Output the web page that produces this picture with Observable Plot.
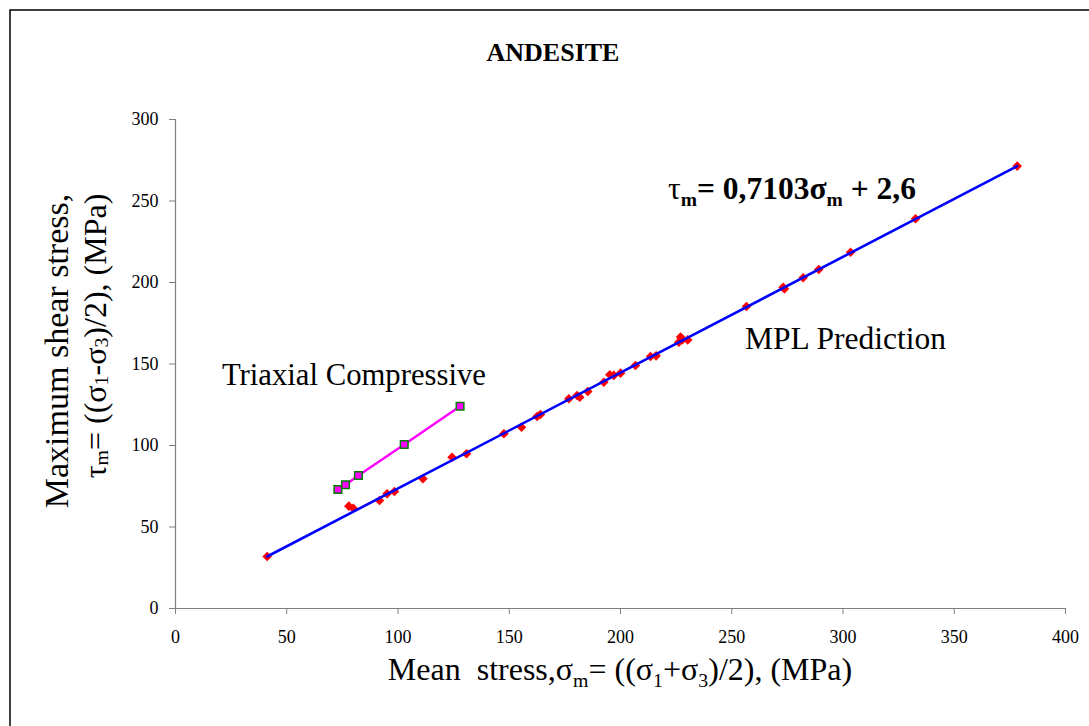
<!DOCTYPE html>
<html>
<head>
<meta charset="utf-8">
<script src="https://cdn.jsdelivr.net/npm/d3@7"></script>
<script src="https://cdn.jsdelivr.net/npm/@observablehq/plot@0.6"></script>
<style>
  html, body { margin: 0; padding: 0; background: #ffffff; }
  svg { display: block; }
</style>
</head>
<body>
<div id="chart"></div>
<script>
// ---- data ----
// MPL prediction points (mean stress, max shear stress), MPa
const mplX = [41.2, 77.9, 79.9, 91.7, 95.1, 98.4, 111.2, 124.3, 130.8, 147.6, 155.5, 162.5, 164.0,
              176.8, 180.5, 181.7, 185.3, 192.5, 195.2, 197.0, 200.0, 206.7, 213.5, 216.0,
              226.2, 227.0, 227.7, 230.2, 256.6, 273.1, 273.7, 282.1, 289.1, 303.4, 332.6, 378.3];
const mplY = [31.9, 62.8, 61.5, 66.3, 70.4, 71.8, 79.6, 92.8, 94.9, 107.2, 111.2, 117.8, 119.0,
              128.7, 130.7, 129.6, 133.1, 138.8, 143.4, 143.0, 144.4, 149.1, 154.6, 155.0,
              163.4, 166.5, 164.8, 164.8, 185.3, 197.1, 196.1, 202.9, 208.0, 218.6, 239.1, 271.4];
// Trend line ends as drawn (tau = 0.7103 sigma + 2.6)
const fitX = [41.2, 378.3];
const fitY = [31.9, 271.4];
// Triaxial compressive test points
const triX = [73.0, 76.4, 82.2, 102.8, 127.9];
const triY = [73.0, 75.9, 81.6, 100.6, 124.1];
// Axis ticks
const xTicks = [0, 50, 100, 150, 200, 250, 300, 350, 400];
const yTicks = [0, 50, 100, 150, 200, 250, 300];
// Series labels (anchor in data units)
const seriesLabels = ["Triaxial Compressive", "MPL Prediction"];
const seriesLabelX = [21.1, 256.2];
const seriesLabelY = [136.8, 158.9];
// Equation anchor (data units)
const eqX = 221.6, eqY = 250.9;

const mpl = mplX.map((x, i) => ({x, y: mplY[i]}));
const fit = fitX.map((x, i) => ({x, y: fitY[i]}));
const tri = triX.map((x, i) => ({x, y: triY[i]}));

const diamond = {
  draw(ctx, size) {
    const r = Math.sqrt(size / Math.PI);
    ctx.moveTo(0, -r); ctx.lineTo(r, 0); ctx.lineTo(0, r); ctx.lineTo(-r, 0); ctx.closePath();
  }
};

const FONT = "'Liberation Serif', 'Times New Roman', serif";

const plot = Plot.plot({
  width: 1089,
  height: 726,
  marginLeft: 175,
  marginRight: 24,
  marginTop: 119,
  marginBottom: 118,
  style: {fontFamily: FONT, fontSize: "18px", background: "#ffffff", color: "black"},
  x: {domain: [0, 400]},
  y: {domain: [0, 300]},
  marks: [
    Plot.axisX({ticks: xTicks, tickSize: 6, tickPadding: 16, stroke: "#808080", fill: "black", label: null, tickFormat: d => String(d)}),
    Plot.axisY({ticks: yTicks, tickSize: 6, tickPadding: 11, stroke: "#808080", fill: "black", label: null, tickFormat: d => String(d)}),
    Plot.ruleX([0], {stroke: "#808080", strokeWidth: 1.2}),
    Plot.ruleY([0], {stroke: "#808080", strokeWidth: 1.2}),
    Plot.dot(mpl, {x: "x", y: "y", symbol: diamond, r: 4.8, fill: "#ff0000", stroke: "none"}),
    Plot.line(fit, {x: "x", y: "y", stroke: "#0000ff", strokeWidth: 2.6}),
    Plot.line(tri, {x: "x", y: "y", stroke: "#ff00ff", strokeWidth: 2.4}),
    Plot.dot(tri, {x: "x", y: "y", symbol: "square", r: 4.3, fill: "#ff00ff", stroke: "#008000", strokeWidth: 1.5})
  ]
});

document.getElementById("chart").appendChild(plot);

const svg = d3.select(plot);
const X = plot.scale("x"), Y = plot.scale("y");

// outer chart frame
svg.insert("rect", ":first-child")
  .attr("x", 10).attr("y", 10).attr("width", 1200).attr("height", 900)
  .attr("fill", "none").attr("stroke", "black").attr("stroke-width", 1.5);

// rich text helper: parts = [[text, "sub"|null, weight], ...]
function rich(x, y, parts, {size = 30, weight = "normal", anchor = "start", rotate = 0, subScale = 0.62, subShift = 0.22} = {}) {
  const t = svg.append("text")
    .attr("transform", `translate(${x},${y}) rotate(${rotate})`)
    .attr("text-anchor", anchor)
    .attr("font-family", FONT)
    .attr("font-size", size)
    .attr("font-weight", weight)
    .attr("fill", "black")
    .style("white-space", "pre");
  let shifted = 0;
  for (const [txt, kind, w] of parts) {
    const s = t.append("tspan").text(txt);
    if (w) s.attr("font-weight", w);
    if (kind === "sub") {
      const dy = size * subShift;
      s.attr("font-size", size * subScale).attr("dy", dy - shifted);
      shifted = dy;
    } else {
      if (shifted) s.attr("dy", -shifted);
      shifted = 0;
    }
  }
  return t;
}

// title
rich(553, 61, [["ANDESITE"]], {size: 26, weight: "bold", anchor: "middle"});

// x axis title
rich(620, 680, [["Mean  stress,σ"], ["m", "sub"], ["= ((σ"], ["1", "sub"], ["+σ"], ["3", "sub"], [")/2), (MPa)"]],
  {size: 32, anchor: "middle"});

// y axis title (two lines)
rich(68, 351, [["Maximum shear stress,"]], {size: 34, anchor: "middle", rotate: -90});
rich(106, 336, [["τ"], ["m", "sub"], ["= ((σ"], ["1", "sub"], ["-σ"], ["3", "sub"], [")/2), (MPa)"]],
  {size: 32, anchor: "middle", rotate: -90, subShift: 0.05});

// series labels
seriesLabels.forEach((s, i) => rich(X.apply(seriesLabelX[i]), Y.apply(seriesLabelY[i]), [[s]], {size: i === 0 ? 30.7 : 31.5}));

// equation
rich(X.apply(eqX), Y.apply(eqY),
  [["τ", null, "normal"], ["m", "sub"], ["= 0,7103σ"], ["m", "sub"], [" + 2,6"]],
  {size: 31.5, weight: "bold"});
</script>
</body>
</html>
